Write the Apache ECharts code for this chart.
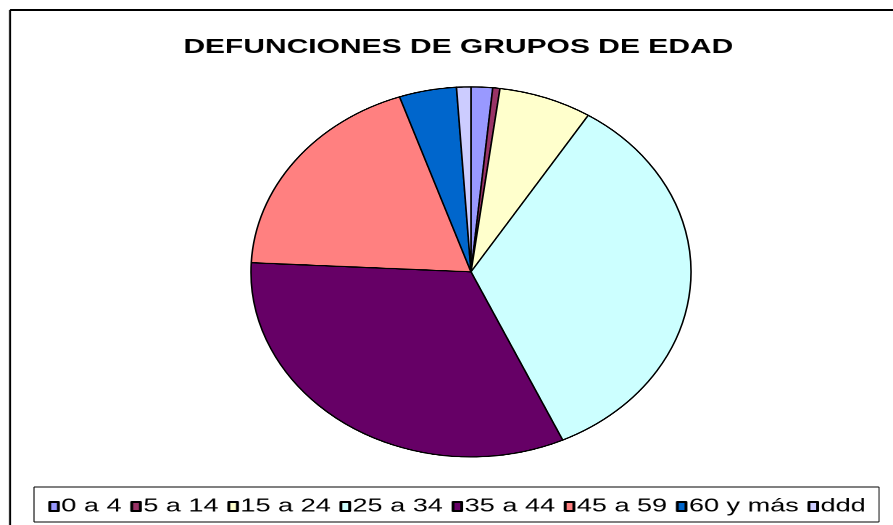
<!DOCTYPE html>
<html>
<head>
<meta charset="utf-8">
<script src="https://cdn.jsdelivr.net/npm/echarts@6/dist/echarts.min.js"></script>
<style>
  html, body { margin: 0; padding: 0; background: #fff; }
  #wrap { position: relative; width: 893px; height: 525px; overflow: hidden; background: #fff; }
  /* texto ensanchado horizontalmente como en la imagen original */
  #chart-text { position: absolute; left: 0; top: 0; width: 616px; height: 525px; transform: scaleX(1.4497); transform-origin: 0 0; }
  /* tarta eliptica */
  #chart-pie { position: absolute; left: 250px; top: 86px; width: 442px; height: 442px; transform: scaleY(0.841); transform-origin: 0 0; }
</style>
</head>
<body>
<div id="wrap">
  <div id="chart-text"></div>
  <div id="chart-pie"></div>
</div>
<script>
  var titulo = 'DEFUNCIONES DE GRUPOS DE EDAD';
  var grupos = ['0 a 4', '5 a 14', '15 a 24', '25 a 34', '35 a 44', '45 a 59', '60 y más', 'ddd'];
  var defunciones = [3, 1, 13, 65, 62, 36, 8, 2];
  var colores = ['#9999FF', '#993366', '#FFFFCC', '#CCFFFF', '#660066', '#FF8080', '#0066CC', '#CCCCFF'];

  var S = 893 / 616;

  function buildData(borderW) {
    return grupos.map(function (g, i) {
      return { name: g, value: defunciones[i], itemStyle: { color: colores[i], borderColor: '#000', borderWidth: borderW } };
    });
  }

  // capa de texto: titulo, leyenda y marcos
  var textChart = echarts.init(document.getElementById('chart-text'), null, { devicePixelRatio: 2 });
  function vline(x, y1, y2, w) {
    return { type: 'line', shape: { x1: x / S, y1: y1, x2: x / S, y2: y2 }, style: { stroke: '#000', lineWidth: w / S } };
  }
  function hline(x1, x2, y, w) {
    return { type: 'line', shape: { x1: x1 / S, y1: y, x2: x2 / S, y2: y }, style: { stroke: '#000', lineWidth: w } };
  }
  textChart.setOption({
    animation: false,
    title: {
      text: titulo,
      left: 451 / S,
      textAlign: 'center',
      top: 32,
      textStyle: { fontFamily: 'Liberation Sans, Arial, sans-serif', fontWeight: 'bold', fontSize: 20.7, color: '#000' }
    },
    legend: {
      data: grupos,
      left: 41 / S,
      top: 492,
      orient: 'horizontal',
      icon: 'rect',
      itemWidth: 6,
      itemHeight: 9,
      itemGap: 6,
      selectedMode: false,
      textStyle: { fontFamily: 'Liberation Sans, Arial, sans-serif', fontSize: 18.7, color: '#000', padding: [0, 0, 0, -3] }
    },
    graphic: [
      vline(10, 10, 540, 2),
      hline(10, 900, 10, 2),
      vline(34, 487, 522, 1),
      vline(879, 487, 522, 1),
      hline(34, 879, 487, 1),
      hline(34, 879, 522, 1)
    ],
    series: [{
      // serie fuera de pantalla, solo para los colores de la leyenda
      type: 'pie',
      center: [-500, -500],
      radius: 1,
      silent: true,
      label: { show: false },
      labelLine: { show: false },
      data: buildData(1)
    }]
  });

  // capa de la tarta
  var pieChart = echarts.init(document.getElementById('chart-pie'), null, { devicePixelRatio: 2 });
  pieChart.setOption({
    animation: false,
    series: [{
      type: 'pie',
      center: [221, 221],
      radius: 220,
      startAngle: 90,
      clockwise: true,
      silent: true,
      avoidLabelOverlap: false,
      label: { show: false },
      labelLine: { show: false },
      emphasis: { disabled: true },
      data: buildData(1.6)
    }]
  });
</script>
</body>
</html>
